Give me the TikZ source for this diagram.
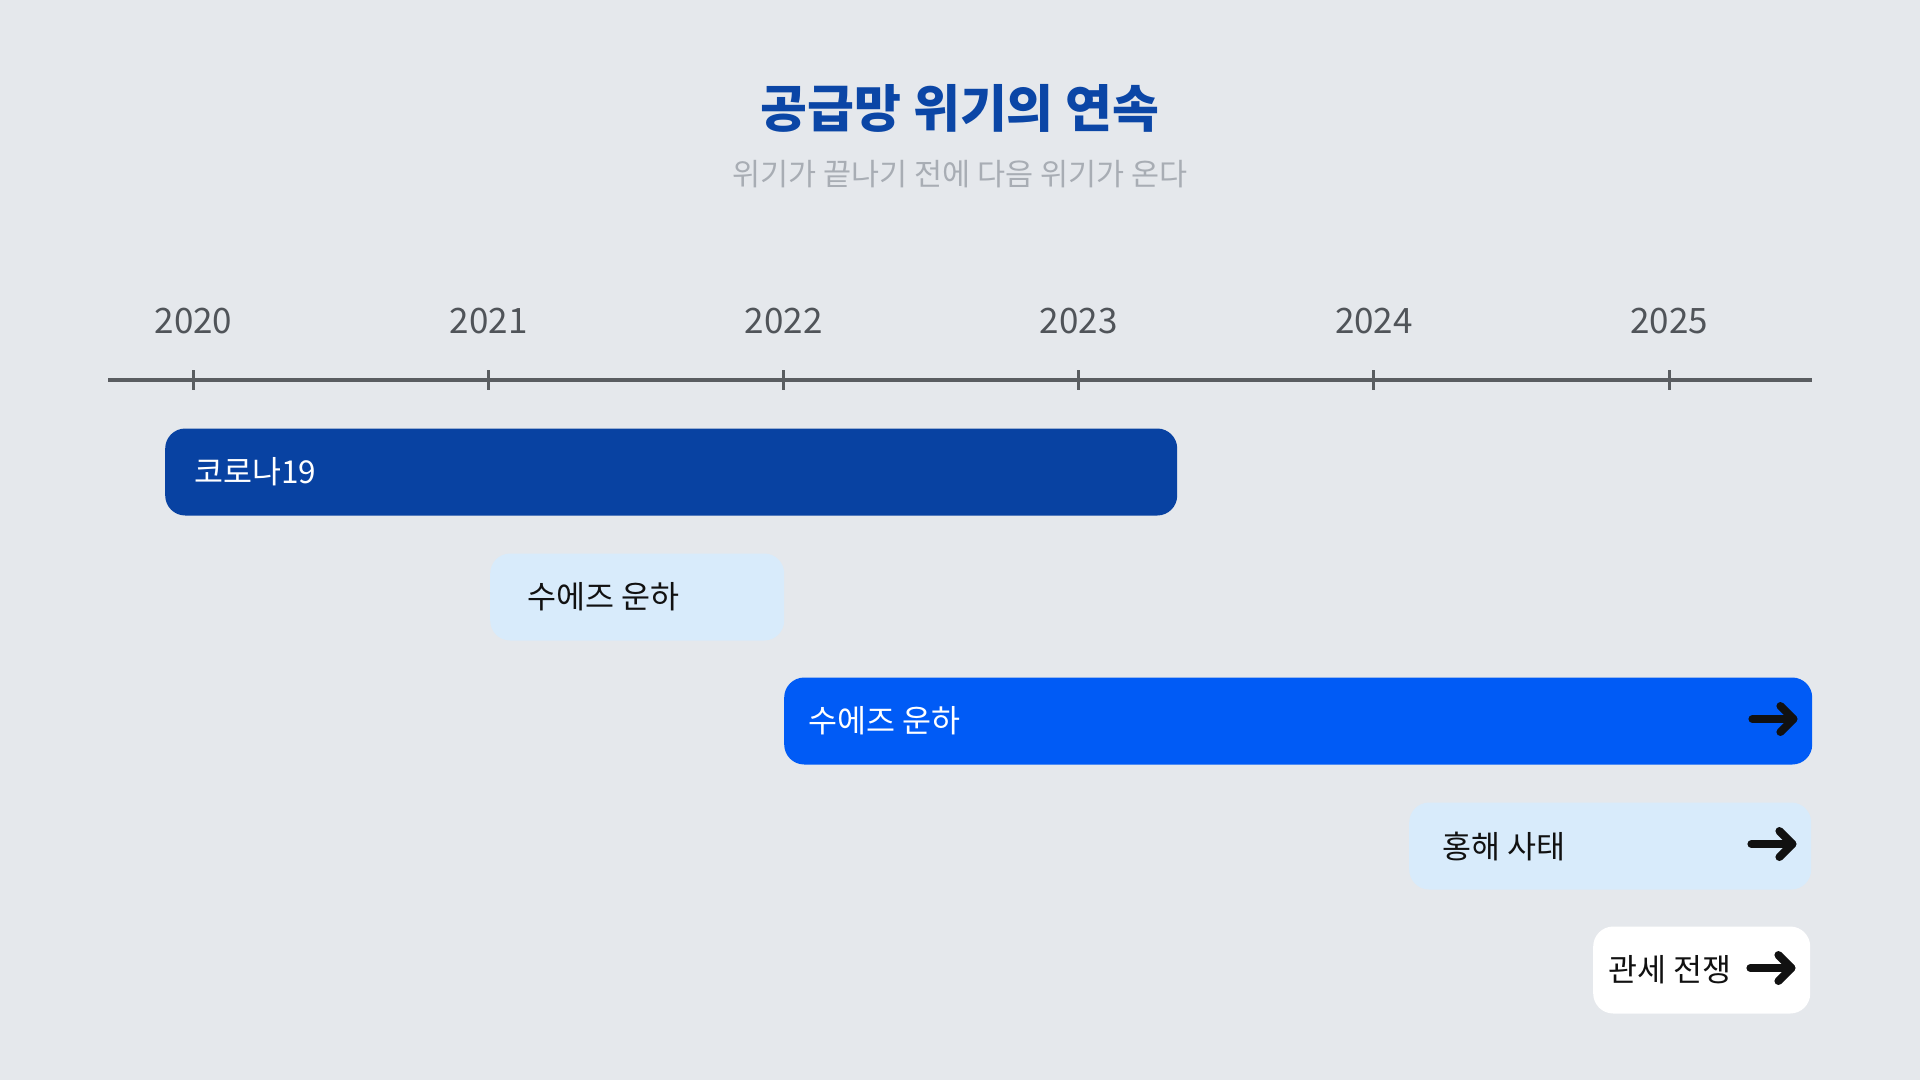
\documentclass[tikz,border=0pt]{standalone}
\usepackage{fontspec}
\setmainfont{Noto Sans CJK KR}
\usetikzlibrary{positioning}

\definecolor{bgcol}{HTML}{E5E8EC}
\definecolor{titleblue}{HTML}{0B46A6}
\definecolor{subgray}{HTML}{A8ADB4}
\definecolor{yeargray}{HTML}{505459}
\definecolor{axisgray}{HTML}{5A5D61}
\definecolor{darkblue}{HTML}{0842A2}
\definecolor{brightblue}{HTML}{005BF6}
\definecolor{paleblue}{HTML}{D8EBFB}
\definecolor{inkblack}{HTML}{111111}

\tikzset{
	bar/.style={rounded corners=20pt, minimum height=87pt, inner sep=0pt, anchor=west},
	barlbl/.style={font=\fontsize{31.5}{36}\selectfont, inner sep=0pt, anchor=west},
	yearlbl/.style={font=\fontsize{35}{40}\selectfont, text=yeargray, inner sep=0pt},
	axisline/.style={line width=3.5pt, draw=axisgray},
	tick/.style={line width=3pt, draw=axisgray},
	tip/.style={line width=8pt, line cap=round, line join=round, draw=inkblack},
}

\begin{document}
\begin{tikzpicture}[x=1pt, y=-1pt]
		%%%%% START %%%%%
		
		\fill[bgcol] (0, 0) rectangle (1920, 1080);
		\useasboundingbox (0, 0) rectangle (1920, 1080);
		
		\node[font=\bfseries\fontsize{51}{60}\selectfont, text=titleblue] (title) at (960, 108) {공급망 위기의 연속};
		\node[font=\fontsize{30.5}{36}\selectfont, text=subgray] (subtitle) at (960, 174) {위기가 끝나기 전에 다음 위기가 온다};
		
		\draw[axisline] (108, 380) -- (1812, 380);
		\foreach \yr [count=\i from 0] in {2020, 2021, 2022, 2023, 2024, 2025} {
			\node[yearlbl] (yr\yr) at ({193.5 + 295.1*\i}, 321) {\yr};
			\draw[tick] ({193.5 + 295.1*\i}, 370) -- ({193.5 + 295.1*\i}, 390);
		}
		
		\node[bar, fill=darkblue, minimum width=1012pt] (covid) at (165, 472) {};
		\node[barlbl, text=white, right=29pt of covid.west] (covidlbl) {코로나19};
		
		\node[bar, fill=paleblue, minimum width=294pt] (suez) at (490, 597) {};
		\node[barlbl, text=inkblack, right=37pt of suez.west] (suezlbl) {수에즈 운하};
		
		\node[bar, fill=brightblue, minimum width=1028pt] (suezb) at (784, 721) {};
		\node[barlbl, text=white, right=24pt of suezb.west] (suezblbl) {수에즈 운하};
		
		\node[bar, fill=paleblue, minimum width=402pt] (redsea) at (1409, 846) {};
		\node[barlbl, text=inkblack, right=33pt of redsea.west] (redsealbl) {홍해 사태};
		
		\node[bar, fill=white, minimum width=217pt] (tariff) at (1593, 970) {};
		\node[barlbl, text=inkblack, right=15pt of tariff.west] (tarifflbl) {관세 전쟁};
		
		% ongoing arrows
		\foreach \b in {suezb, redsea, tariff} {
			\draw[tip] ([xshift=-60pt, yshift=2pt]\b.east) -- ([xshift=-19pt, yshift=2pt]\b.east);
			\draw[tip] ([xshift=-32pt, yshift=15pt]\b.east) -- ([xshift=-19pt, yshift=2pt]\b.east) -- ([xshift=-32pt, yshift=-11pt]\b.east);
		}
		
		%%%%% END %%%%%
	\end{tikzpicture}
\end{document}
